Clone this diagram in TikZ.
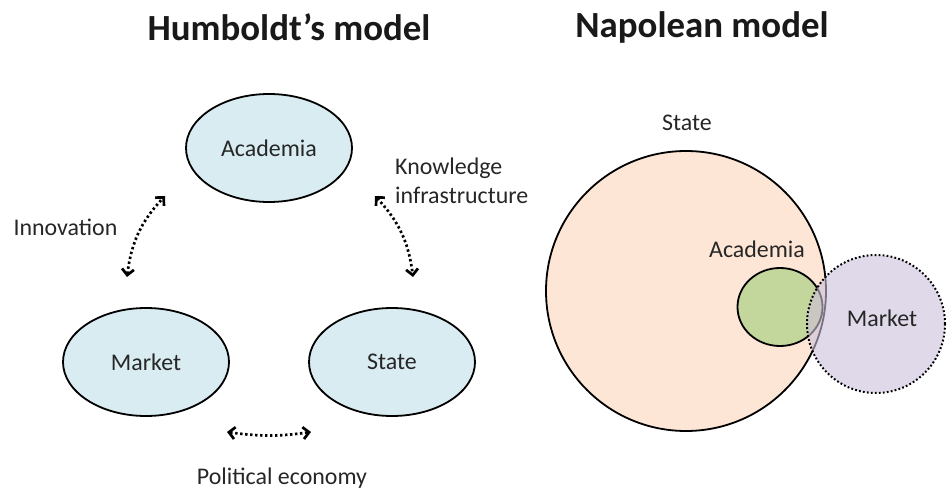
\documentclass[tikz,border=0pt]{standalone}
\usepackage{fontspec}
\setmainfont{Carlito}
\usetikzlibrary{arrows.meta,shapes.geometric}
\definecolor{hblue}{HTML}{D9ECF2}
\definecolor{npeach}{HTML}{FDE6D6}
\definecolor{ngreen}{HTML}{C3D69B}
\definecolor{npurple}{HTML}{CCC0DA}
\tikzset{
  title/.style={font=\fontsize{37}{44}\selectfont\bfseries, text=black!90},
  lbl/.style={font=\fontsize{24}{29}\selectfont, text=black!85},
  hnode/.style={ellipse, draw=black, line width=1.8bp, fill=hblue, minimum width=166bp, minimum height=108bp, inner sep=0pt, lbl},
  link/.style={line width=2.7bp, dash pattern=on 2.4bp off 2.6bp, {Straight Barb[length=6bp,width=12bp]}-{Straight Barb[length=6bp,width=12bp]}},
}
\begin{document}
\begin{tikzpicture}[x=1bp,y=-1bp]
\useasboundingbox (0,0) rectangle (948,491);
% Titles
\node[title] (t1) at (289,27) {Humboldt’s model};
\node[title] (t2) at (702,27) {Napolean model};
% Humboldt model
\node[hnode] (hacad) at (269,148) {Academia};
\node[hnode] (hmarket) at (146,362) {Market};
\node[hnode] (hstate) at (392,362) {State};
\coordinate (i1) at (127,277);
\coordinate (i2) at (165,196);
\coordinate (k1) at (375,196);
\coordinate (k2) at (413,277);
\coordinate (p1) at (227,432);
\coordinate (p2) at (311,432);
\draw[link] (i1) to[bend left=18] (i2);
\draw[link] (k1) to[bend left=18] (k2);
\draw[link] (p1) to[bend right=8] (p2);
\node[lbl, anchor=west] (linn) at (10,227) {Innovation};
\node[lbl, anchor=west, align=left, inner sep=0pt] (lknow) at (395,181) {Knowledge\\infrastructure};
\node[lbl] (lpol) at (282,478) {Political economy};
% Napolean model
\node[circle, draw=black, line width=1.8bp, fill=npeach, minimum size=280bp, inner sep=0pt] (nstate) at (686,291) {};
\node[lbl] (nstatel) at (687,123) {State};
\node[lbl] (nacadl) at (757,249) {Academia};
\node[ellipse, draw=black, line width=1.8bp, fill=ngreen, minimum width=85bp, minimum height=78bp, inner sep=0pt] (nacad) at (780,307) {};
\node[circle, draw=black, line width=2bp, dash pattern=on 1.8bp off 2.2bp, fill=npurple, fill opacity=0.6, text opacity=1, minimum size=138bp, inner sep=0pt, lbl] (nmarket) at (876,324) {};
\node[lbl] (nmarketl) at (882,318) {Market};
\end{tikzpicture}
\end{document}
